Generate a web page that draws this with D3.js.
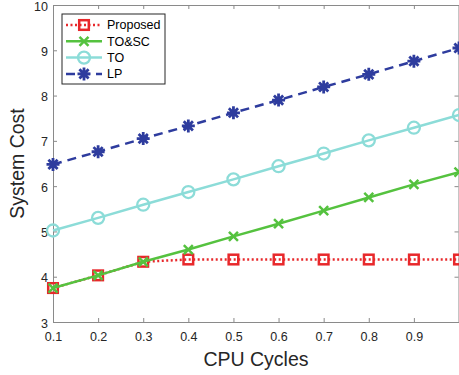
<!DOCTYPE html>
<html>
<head>
<meta charset="utf-8">
<script src="https://cdn.jsdelivr.net/npm/d3@7"></script>
<style>
  body { margin: 0; background: #fff; }
  svg { display: block; font-family: "Liberation Sans", Arial, sans-serif; }
</style>
</head>
<body>
<div id="chart"></div>
<script>
// Data
var cycles = [0.1, 0.2, 0.3, 0.4, 0.5, 0.6, 0.7, 0.8, 0.9, 1.0];
var proposed = [3.75, 4.03, 4.33, 4.38, 4.38, 4.38, 4.38, 4.38, 4.38, 4.38];
var toSc = [3.75, 4.03, 4.33, 4.60, 4.89, 5.17, 5.46, 5.75, 6.04, 6.31];
var toOnly = [5.02, 5.30, 5.59, 5.87, 6.15, 6.44, 6.72, 7.01, 7.29, 7.57];
var lp = [6.48, 6.76, 7.05, 7.33, 7.62, 7.90, 8.19, 8.47, 8.76, 9.05];
var xTicks = [0.1, 0.2, 0.3, 0.4, 0.5, 0.6, 0.7, 0.8, 0.9];
var yTicks = [3, 4, 5, 6, 7, 8, 9, 10];
var seriesNames = ['Proposed', 'TO&SC', 'TO', 'LP'];

var series = [
  { name: seriesNames[0], values: proposed, color: '#e8282b', dash: '2,2.5', marker: 'square' },
  { name: seriesNames[1], values: toSc, color: '#55c23f', dash: null, marker: 'x' },
  { name: seriesNames[2], values: toOnly, color: '#8cdcd8', dash: null, marker: 'circle' },
  { name: seriesNames[3], values: lp, color: '#2e3c9e', dash: '9,6', marker: 'star' }
];

var svgWidth = 459, svgHeight = 375;
var margin = { top: 5, right: 0, bottom: 53, left: 53 };
var width = svgWidth - margin.left - margin.right;
var height = svgHeight - margin.top - margin.bottom;

var svg = d3.select('#chart').append('svg')
    .attr('width', svgWidth)
    .attr('height', svgHeight);

var chart = svg.append('g')
    .attr('transform', 'translate(' + margin.left + ',' + margin.top + ')');

var x = d3.scaleLinear().domain([0.1, 1.0]).range([0, width]);
var y = d3.scaleLinear().domain([3, 10]).range([height, 0]);

var axisColor = '#8a8a8a';

// axes (MATLAB style, ticks inward, box on)
var bottomAxis = d3.axisBottom(x).tickValues(xTicks).tickSize(-4).tickPadding(10)
    .tickFormat(d3.format('.1f'));
var leftAxis = d3.axisLeft(y).tickValues(yTicks).tickSize(-4).tickPadding(5)
    .tickFormat(d3.format('d'));
var topAxis = d3.axisTop(x).tickValues(xTicks).tickSize(-4).tickFormat('');
var rightAxis = d3.axisRight(y).tickValues(yTicks).tickSize(-4).tickFormat('');

function styleAxis(g) {
  g.select('.domain').attr('stroke', axisColor);
  g.selectAll('.tick line').attr('stroke', axisColor);
}

chart.append('g').attr('transform', 'translate(0,' + height + ')').call(bottomAxis).call(styleAxis);
var yAxisG = chart.append('g').call(leftAxis).call(styleAxis);
chart.append('g').call(topAxis).call(styleAxis);
chart.append('g').attr('transform', 'translate(' + (width - 0.5) + ',0)').call(rightAxis).call(styleAxis);

chart.selectAll('.tick text').attr('font-size', 12.5).attr('fill', '#262626');
yAxisG.selectAll('.tick text').attr('dy', '0.4em');

// lines
var line = d3.line()
    .x(function(d, i) { return x(cycles[i]); })
    .y(function(d) { return y(d); });

function drawMarker(g, type, color) {
  if (type === 'square') {
    g.append('rect').attr('x', -4.8).attr('y', -4.8).attr('width', 9.6).attr('height', 9.6)
      .attr('fill', 'none').attr('stroke', color).attr('stroke-width', 2.5);
  } else if (type === 'x') {
    g.append('path').attr('d', 'M-4.5,-4.5L4.5,4.5M-4.5,4.5L4.5,-4.5')
      .attr('stroke', color).attr('stroke-width', 2.5);
  } else if (type === 'circle') {
    g.append('circle').attr('r', 6).attr('fill', 'none')
      .attr('stroke', color).attr('stroke-width', 2.3);
  } else if (type === 'star') {
    g.append('path').attr('d', 'M0,-6.5L0,6.5M-6.5,0L6.5,0M-4.6,-4.6L4.6,4.6M-4.6,4.6L4.6,-4.6')
      .attr('stroke', color).attr('stroke-width', 2.8);
  }
}

series.forEach(function(s) {
  chart.append('path')
    .datum(s.values)
    .attr('d', line)
    .attr('fill', 'none')
    .attr('stroke', s.color)
    .attr('stroke-width', 2.5)
    .attr('stroke-dasharray', s.dash);

  chart.selectAll(null)
    .data(s.values)
    .enter()
    .append('g')
      .attr('transform', function(d, i) { return 'translate(' + x(cycles[i]) + ',' + y(d) + ')'; })
      .each(function() { drawMarker(d3.select(this), s.marker, s.color); });
});

// legend
var legend = chart.append('g').attr('transform', 'translate(9,9)');
legend.append('rect')
  .attr('width', 103).attr('height', 70)
  .attr('fill', '#fff').attr('stroke', '#262626').attr('stroke-width', 1);

series.forEach(function(s, i) {
  var row = legend.append('g').attr('transform', 'translate(0,' + (11 + i * 16.3) + ')');
  row.append('line')
    .attr('x1', 4).attr('x2', 40).attr('y1', 0).attr('y2', 0)
    .attr('stroke', s.color).attr('stroke-width', 2.5)
    .attr('stroke-dasharray', s.dash);
  var m = row.append('g').attr('transform', 'translate(22,0)');
  drawMarker(m, s.marker, s.color);
  row.append('text')
    .attr('x', 45).attr('y', 0).attr('dy', '0.35em')
    .attr('font-size', 12.5).attr('fill', '#000')
    .text(s.name);
});

// axis labels
svg.append('text')
  .attr('x', margin.left + width / 2).attr('y', 366)
  .attr('text-anchor', 'middle')
  .attr('font-size', 19.5).attr('fill', '#262626')
  .text('CPU Cycles');

svg.append('text')
  .attr('transform', 'translate(24,' + (margin.top + height / 2) + ') rotate(-90)')
  .attr('text-anchor', 'middle')
  .attr('font-size', 19.5).attr('fill', '#262626')
  .text('System Cost');
</script>
</body>
</html>
